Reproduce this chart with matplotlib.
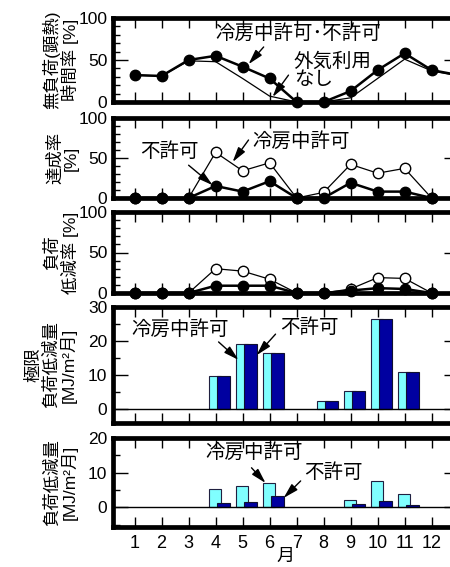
import numpy as np
import matplotlib.pyplot as plt
from matplotlib.ticker import MultipleLocator

plt.rcParams['font.family'] = ['Liberation Sans', 'Noto Sans CJK JP']
fs = 12.5
afs = 14

months = [1, 2, 3, 4, 5, 6, 7, 8, 9, 10, 11, 12, 13]
# 無負荷(顕熱)時間率 [%]
noload_on = [32, 31, 50, 55, 42, 28, 0, 0, 13, 38, 58, 38, 32]
noload_none = [32, 31, 49, 48, 28, 7, 0, 0, 5, 28, 51, 37, 31]
# 達成率 [%]
achieve_allow = [0, 0, 0, 57, 34, 44, 0, 7, 42, 31, 37, 0]
achieve_deny = [0, 0, 0, 15, 8, 21, 0, 0, 19, 8, 8, 0]
# 負荷低減率 [%]
reduce_allow = [0, 0, 0, 30, 27, 17, 0, 0, 5, 19, 18, 0]
reduce_deny = [0, 0, 0, 9, 9, 9, 0, 0, 3, 6, 5, 0]
# 極限負荷低減量 [MJ/m2月]
bar_months = [4, 5, 6, 8, 9, 10, 11]
limit_allow = [9.6, 19.0, 16.3, 2.3, 5.1, 26.6, 10.7]
limit_deny = [9.6, 19.0, 16.3, 2.3, 5.1, 26.6, 10.7]
# 負荷低減量 [MJ/m2月]
bar_months2 = [4, 5, 6, 9, 10, 11]
load_allow = [5.2, 6.0, 7.0, 2.1, 7.7, 3.8]
load_deny = [1.3, 1.6, 3.3, 0.9, 1.8, 0.6]

W, H = 450, 567
fig = plt.figure(figsize=(W / 100, H / 100), dpi=100)

def make_ax(top, bottom, ylim, major, minor, ylabel, ylab_x):
    ax = fig.add_axes([113 / W, 1 - bottom / H, (458.6 - 113) / W, (bottom - top) / H])
    ax.set_xlim(0.2, 13)
    ax.set_ylim(*ylim)
    ax.set_xticks(range(1, 13))
    ax.yaxis.set_major_locator(MultipleLocator(major))
    ax.yaxis.set_minor_locator(MultipleLocator(minor))
    ax.tick_params(axis='x', direction='in', top=True, length=7, width=1, labelbottom=False)
    ax.tick_params(axis='y', which='major', direction='in', right=True, length=11, width=1,
                   labelsize=fs, pad=4)
    ax.tick_params(axis='y', which='minor', direction='in', right=True, length=5, width=1)
    for s in ax.spines.values():
        s.set_linewidth(3.4)
    fig.text(ylab_x / W, 1 - (top + bottom) / 2 / H, ylabel, rotation=90, fontsize=12.5,
             ha='center', va='center', linespacing=1.05)
    return ax

arrow = dict(arrowstyle='-|>,head_length=0.9,head_width=0.25', color='k', lw=1, shrinkA=0, shrinkB=0)

# panel 1
ax1 = make_ax(18, 102, (0, 100), 50, 10, '無負荷(顕熱)\n時間率 [%]', 61)
ax1.plot(months, noload_none, color='k', lw=0.9, clip_on=False)
ax1.plot(months, noload_on, color='k', lw=1.8, marker='o', ms=7.5, clip_on=False)
ax1.set_xlim(0.2, 13)
ax1.text(7.07, 82, '冷房中許可･不許可', fontsize=afs, ha='center', va='center')
ax1.annotate('', xy=(5.22, 45), xytext=(5.78, 65.5), arrowprops=arrow)
ax1.text(6.89, 37, '外気利用\nなし', fontsize=afs, ha='left', va='center', linespacing=1.05)
ax1.annotate('', xy=(6.11, 6), xytext=(6.7, 32), arrowprops=arrow)

# panel 2
ax2 = make_ax(118, 198, (0, 100), 50, 10, '達成率\n[%]', 63)
m12 = months[:12]
ax2.plot(m12, achieve_allow, color='k', lw=0.9, marker='o', ms=7.5, mfc='white', clip_on=False)
ax2.plot(m12, achieve_deny, color='k', lw=1.8, marker='o', ms=7.5, clip_on=False)
ax2.text(7.15, 70, '冷房中許可', fontsize=afs, ha='center', va='center')
ax2.annotate('', xy=(4.63, 45), xytext=(5.22, 72.5), arrowprops=arrow)
ax2.text(2.28, 57.5, '不許可', fontsize=afs, ha='center', va='center')
ax2.annotate('', xy=(3.89, 16), xytext=(3.0, 41), arrowprops=arrow)

# panel 3
ax3 = make_ax(212, 293, (0, 100), 50, 10, '負荷\n低減率 [%]', 61)
ax3.plot(m12, reduce_allow, color='k', lw=0.9, marker='o', ms=7.5, mfc='white', clip_on=False)
ax3.plot(m12, reduce_deny, color='k', lw=1.8, marker='o', ms=7.5, clip_on=False)

# panel 4
ax4 = make_ax(307, 423, (-4.2, 30), 10, 5, '極限\n負荷低減量\n[MJ/m²月]', 51)
bm = np.array(bar_months)
ax4.axhline(0, color='k', lw=1)
ax4.bar(bm - 0.02, limit_allow, width=0.46, color='#80FFFF', edgecolor='#202040', lw=0.8)
ax4.bar(bm + 0.29, limit_deny, width=0.46, color='#0000A0', edgecolor='#101030', lw=0.8)
ax4.text(2.67, 23.2, '冷房中許可', fontsize=afs, ha='center', va='center')
ax4.annotate('', xy=(4.85, 14.4), xytext=(4.11, 19.7), arrowprops=arrow)
ax4.text(7.46, 23.8, '不許可', fontsize=afs, ha='center', va='center')
ax4.annotate('', xy=(5.52, 15.8), xytext=(6.22, 22.0), arrowprops=arrow)

# panel 5
ax5 = make_ax(438, 527, (-5.7, 20), 10, 5, '負荷低減量\n[MJ/m²月]', 61)
bm2 = np.array(bar_months2)
ax5.axhline(0, color='k', lw=1)
ax5.bar(bm2 - 0.02, load_allow, width=0.46, color='#80FFFF', edgecolor='#202040', lw=0.8)
ax5.bar(bm2 + 0.29, load_deny, width=0.46, color='#0000A0', edgecolor='#101030', lw=0.8)
ax5.text(5.43, 15.7, '冷房中許可', fontsize=afs, ha='center', va='center')
ax5.annotate('', xy=(5.85, 7.0), xytext=(5.33, 11.4), arrowprops=arrow)
ax5.text(8.35, 10.0, '不許可', fontsize=afs, ha='center', va='center')
ax5.annotate('', xy=(6.52, 2.7), xytext=(7.15, 7.6), arrowprops=arrow)
ax5.tick_params(axis='x', labelbottom=True, labelsize=13, pad=6)
ax5.set_xticklabels([str(m) for m in range(1, 13)])
ax5.set_xlabel('月', fontsize=13, labelpad=-3)

fig.savefig('out.png', dpi=100)
